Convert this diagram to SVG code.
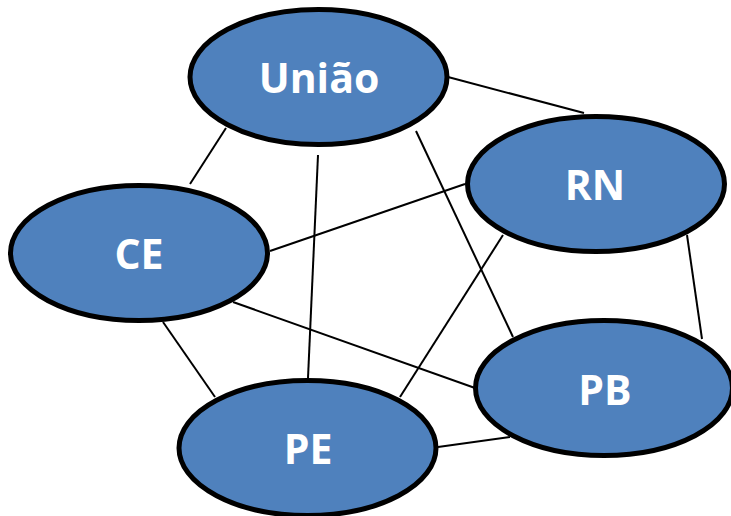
<svg xmlns="http://www.w3.org/2000/svg" width="731" height="516" viewBox="0 0 731 516">
<style>
.node ellipse{fill:#4F81BD;stroke:#000;stroke-width:5}
.node text{fill:#fff;font-family:"Open Sans","Lato",sans-serif;font-weight:bold;font-size:41px;text-anchor:middle}
#connectors line{stroke:#000;stroke-width:2}
</style>
<rect width="731" height="516" fill="#fff"/>
<g id="connectors">
<line x1="448" y1="77" x2="584" y2="113"/>
<line x1="226" y1="128" x2="190" y2="184"/>
<line x1="318" y1="155" x2="308" y2="378"/>
<line x1="416" y1="131" x2="513" y2="337"/>
<line x1="465" y1="184" x2="270" y2="251"/>
<line x1="503" y1="235" x2="400" y2="397"/>
<line x1="687" y1="235" x2="702" y2="339"/>
<line x1="233" y1="302" x2="475" y2="388"/>
<line x1="163" y1="322" x2="215" y2="397"/>
<line x1="438" y1="447" x2="510" y2="437"/>
</g>
<g id="node-uniao" class="node"><ellipse cx="318.5" cy="77" rx="128.5" ry="67.5"/><text x="319" y="93">União</text></g>
<g id="node-rn" class="node"><ellipse cx="596" cy="184" rx="128.5" ry="67.5"/><text x="595" y="200">RN</text></g>
<g id="node-ce" class="node"><ellipse cx="139" cy="253" rx="128.5" ry="67.5"/><text x="139" y="269">CE</text></g>
<g id="node-pb" class="node"><ellipse cx="604" cy="388" rx="128.5" ry="67.5"/><text x="605" y="405">PB</text></g>
<g id="node-pe" class="node"><ellipse cx="307.5" cy="448" rx="128.5" ry="67.5"/><text x="308" y="464">PE</text></g>
</svg>
